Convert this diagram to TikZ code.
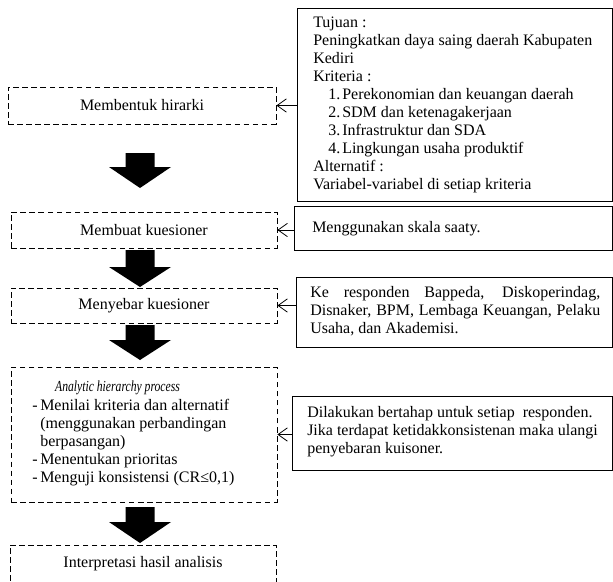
\documentclass[tikz,border=0pt]{standalone}
\usepackage{fontspec}
\setmainfont{Liberation Serif}
\usetikzlibrary{arrows.meta}
\newcommand\blockarrow[3]{\fill (125.5,#1) -- (154.5,#1) -- (154.5,#2) -- (171,#2) -- (140,#3) -- (109,#2) -- (125.5,#2) -- cycle;}
\newcommand\numitem[2]{\hspace*{11.25pt}\makebox[10.5pt][l]{#1}#2}
\newcommand\dashitem[1]{\mbox{\makebox[6pt][l]{-}#1}}
\begin{document}
\begin{tikzpicture}[x=0.75pt,y=-0.75pt,
  font=\fontsize{12}{13.5}\selectfont,
  dbox/.style={draw, dash pattern=on 4.2pt off 2.6pt, line width=0.6pt, inner sep=0pt, align=center},
  sbox/.style={draw, line width=0.7pt, inner sep=0pt},
  txt/.style={inner sep=0pt, anchor=base west},
  openarr/.style={-{Straight Barb[length=7pt,width=10pt]}, line width=0.6pt}]
\useasboundingbox (0,0) rectangle (613,581);
\clip (0,0) rectangle (613,581);

% left dashed boxes
\node[dbox, minimum width=201pt, minimum height=27.75pt] (hier) at (142,105.5) {Membentuk hirarki};
\node[dbox, minimum width=199.5pt, minimum height=27pt] (kues) at (144,230) {Membuat kuesioner};
\node[dbox, minimum width=199.5pt, minimum height=26.25pt] (sebar) at (144,305.5) {Menyebar kuesioner};
\node[dbox, minimum width=199.5pt, minimum height=101.25pt] (ahp) at (144,434.5) {};
\node[inner sep=0pt, anchor=base] (ahptitle) at (117.5,391) {\scalebox{0.76}[1]{\fontsize{11.5}{13.5}\selectfont\itshape Analytic hierarchy process}};
\node[txt] (ahptext) at (32,410) {\parbox[t]{170pt}{\raggedright
  \dashitem{Menilai kriteria dan alternatif}\\
  \mbox{\hspace*{6pt}(menggunakan perbandingan}\\
  \mbox{\hspace*{6pt}berpasangan)}\\
  \dashitem{Menentukan prioritas}\\
  \dashitem{Menguji konsistensi (CR≤0,1)}}};
\node[dbox, minimum width=199.5pt, minimum height=33.75pt] (interp) at (143,567.5) {};
\node[inner sep=0pt, anchor=base] (interptext) at (143,567) {Interpretasi hasil analisis};

% right solid boxes
\node[sbox, minimum width=236.25pt, minimum height=144.75pt] (big) at (454.5,104.5) {};
\node[txt] (bigtext) at (313,28) {\parbox[t]{220pt}{%
  Tujuan :\\
  Peningkatkan daya saing daerah Kabupaten\\
  Kediri\\
  Kriteria :\\
  \numitem{1.}{Perekonomian dan keuangan daerah}\\
  \numitem{2.}{SDM dan ketenagakerjaan}\\
  \numitem{3.}{Infrastruktur dan SDA}\\
  \numitem{4.}{Lingkungan usaha produktif}\\
  Alternatif :\\
  Variabel-variabel di setiap kriteria}};

\node[sbox, minimum width=238.5pt, minimum height=33pt] (saaty) at (453,228) {};
\node[txt] (saatytext) at (312,232) {Menggunakan skala saaty.};

\node[sbox, minimum width=237pt, minimum height=52.5pt] (ke) at (454,312) {};
\node[txt] (ketext) at (310,297) {\parbox[t]{217.5pt}{%
  Ke responden Bappeda, Diskoperindag,\linebreak
  Disnaker, BPM, Lembaga Keuangan, Pelaku\linebreak
  Usaha, dan Akademisi.}};

\node[sbox, minimum width=240pt, minimum height=55.5pt] (dil) at (452,433) {};
\node[txt] (diltext) at (307,417) {\parbox[t]{225pt}{\raggedright
  Dilakukan bertahap untuk setiap\ \ responden.\\
  Jika terdapat ketidakkonsistenan maka ulangi\\
  penyebaran kuisoner.}};

% open arrows
\draw[openarr] (big.west |- hier.east) -- (hier.east);
\draw[openarr] (saaty.west |- kues.east) -- (kues.east);
\draw[openarr] (ke.west |- sebar.east) -- (sebar.east);
\draw[openarr] (dil.west |- ahp.east) -- (ahp.east);

% block arrows
\blockarrow{153}{167}{188}
\blockarrow{250}{267}{287}
\blockarrow{325}{340}{360}
\blockarrow{507}{522}{543}
\end{tikzpicture}
\end{document}
